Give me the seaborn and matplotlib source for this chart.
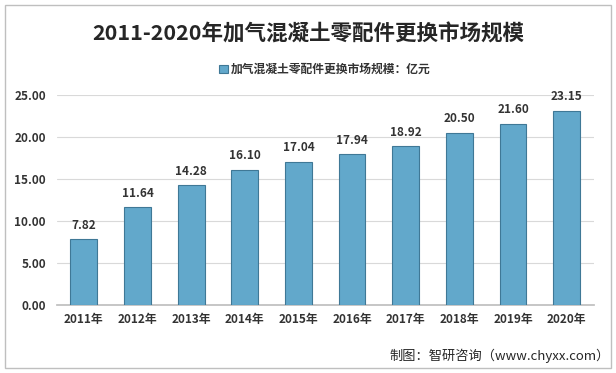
import matplotlib
matplotlib.use("Agg")
import matplotlib.pyplot as plt
import seaborn as sns
import pandas as pd
from matplotlib.patches import Rectangle

# --- data ---
years = ["2011年", "2012年", "2013年", "2014年", "2015年",
         "2016年", "2017年", "2018年", "2019年", "2020年"]
values = [7.82, 11.64, 14.28, 16.10, 17.04, 17.94, 18.92, 20.50, 21.60, 23.15]
y_ticks = [0, 5, 10, 15, 20, 25]
series_name = "加气混凝土零配件更换市场规模：亿元"

df = pd.DataFrame({"年份": years, "规模": values})

sns.set_theme(style="white")
plt.rcParams['font.family'] = ['Noto Sans CJK SC', 'DejaVu Sans']

fig = plt.figure(figsize=(6.16, 3.73), dpi=100)
ax = fig.add_axes([0.0925, 0.182, 0.871, 0.563])

bar_color = "#62A8CB"
sns.barplot(data=df, x="年份", y="规模", color=bar_color, width=0.5,
            edgecolor="#3F7896", linewidth=0.8, saturation=1, ax=ax,
            label=series_name, zorder=3)

# value labels above bars
for i, v in enumerate(values):
    ax.text(i, v + 0.9, f"{v:.2f}", ha="center", va="bottom",
            fontsize=8.5, fontweight="bold", color="#333333")

ax.set_ylim(0, 25)
ax.set_yticks(y_ticks)
ax.set_yticklabels([f"{t:.2f}" for t in y_ticks], fontsize=8.5,
                   fontweight="bold", color="#333333")
ax.tick_params(axis="x", labelsize=8.5, colors="#333333", length=0, pad=6)
ax.tick_params(axis="y", length=0, pad=8)
for lbl in ax.get_xticklabels():
    lbl.set_fontweight("bold")
ax.set_xlabel("")
ax.set_ylabel("")
ax.grid(axis="y", color="#D9D9D9", linewidth=0.8, zorder=0)
for side in ["top", "right", "left"]:
    ax.spines[side].set_visible(False)
ax.spines["bottom"].set_color("#BFBFBF")

# legend below the title
leg = ax.legend(loc="lower center", bbox_to_anchor=(0.5, 1.04), frameon=False,
                fontsize=8.5, handlelength=0.7, handleheight=0.7, handletextpad=0.3)
for t in leg.get_texts():
    t.set_fontweight("bold")
    t.set_color("#333333")

fig.text(0.5, 0.91, "2011-2020年加气混凝土零配件更换市场规模", ha="center",
         va="center", fontsize=15.5, fontweight="bold", color="#262626")
fig.text(0.99, 0.045, "制图：智研咨询（www.chyxx.com）", ha="right",
         va="center", fontsize=9.5, color="#262626")

# light frame around the figure
fig.patches.append(Rectangle((0.008, 0.013), 0.984, 0.974, transform=fig.transFigure,
                             fill=False, edgecolor="#BFBFBF", linewidth=1))

fig.savefig("out.png", dpi=100)
